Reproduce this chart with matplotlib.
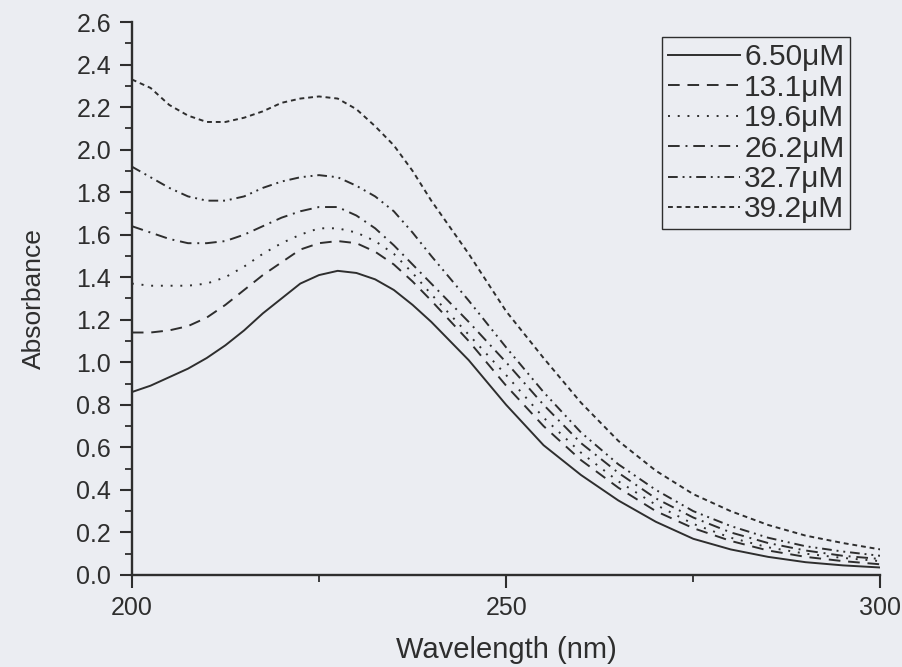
import numpy as np
import matplotlib.pyplot as plt
from matplotlib.ticker import MultipleLocator

plt.rcParams['font.family'] = ['Liberation Sans', 'DejaVu Sans']

# wavelength grid (nm)
wl = [200, 202.5, 205, 207.5, 210, 212.5, 215, 217.5, 220, 222.5, 225, 227.5,
      230, 232.5, 235, 237.5, 240, 245, 250, 255, 260, 265, 270, 275, 280,
      285, 290, 295, 300]

a_650 = [0.86, 0.89, 0.93, 0.97, 1.02, 1.08, 1.15, 1.23, 1.30, 1.37, 1.41, 1.43,
         1.42, 1.39, 1.34, 1.27, 1.19, 1.01, 0.80, 0.61, 0.47, 0.35, 0.25, 0.17,
         0.12, 0.085, 0.06, 0.045, 0.035]
a_131 = [1.14, 1.14, 1.15, 1.17, 1.21, 1.27, 1.34, 1.41, 1.47, 1.53, 1.56, 1.57,
         1.56, 1.52, 1.46, 1.38, 1.29, 1.10, 0.89, 0.70, 0.54, 0.41, 0.30, 0.22,
         0.16, 0.115, 0.085, 0.065, 0.05]
a_196 = [1.37, 1.36, 1.36, 1.36, 1.37, 1.40, 1.45, 1.51, 1.56, 1.60, 1.63, 1.63,
         1.61, 1.57, 1.51, 1.42, 1.32, 1.13, 0.94, 0.74, 0.575, 0.44, 0.33, 0.24,
         0.175, 0.13, 0.10, 0.08, 0.065]
a_262 = [1.64, 1.61, 1.58, 1.56, 1.56, 1.57, 1.60, 1.64, 1.68, 1.71, 1.73, 1.73,
         1.69, 1.63, 1.55, 1.46, 1.37, 1.19, 1.00, 0.80, 0.62, 0.48, 0.36, 0.27,
         0.20, 0.15, 0.115, 0.09, 0.075]
a_327 = [1.92, 1.87, 1.82, 1.78, 1.76, 1.76, 1.78, 1.82, 1.85, 1.87, 1.88, 1.87,
         1.83, 1.78, 1.71, 1.61, 1.50, 1.29, 1.07, 0.86, 0.67, 0.52, 0.40, 0.30,
         0.23, 0.175, 0.135, 0.11, 0.09]
a_392 = [2.33, 2.29, 2.21, 2.16, 2.13, 2.13, 2.15, 2.18, 2.22, 2.24, 2.25, 2.24,
         2.19, 2.11, 2.02, 1.90, 1.76, 1.51, 1.24, 1.02, 0.81, 0.63, 0.49, 0.38,
         0.30, 0.235, 0.185, 0.15, 0.12]

labels = ['6.50μM', '13.1μM', '19.6μM', '26.2μM', '32.7μM', '39.2μM']
series = [a_650, a_131, a_196, a_262, a_327, a_392]
styles = ['-', (0, (6, 4)), (0, (1, 4)), (0, (6, 3, 1, 3)),
          (0, (5, 2.5, 1, 2.5, 1, 2.5)), (0, (2.5, 2))]

ink = '#2e2e2e'
paper = '#ebedf2'

fig = plt.figure(figsize=(9.03, 6.67), dpi=100, facecolor=paper)
ax = fig.add_axes([0.146, 0.138, 0.829, 0.829])
ax.set_facecolor(paper)

for ys, lab, ls in zip(series, labels, styles):
    ax.plot(wl, ys, color=ink, lw=1.4, linestyle=ls, label=lab,
            solid_joinstyle='round')

ax.set_xlim(200, 300)
ax.set_ylim(0, 2.6)
ax.xaxis.set_major_locator(MultipleLocator(50))
ax.xaxis.set_minor_locator(MultipleLocator(25))
ax.yaxis.set_major_locator(MultipleLocator(0.2))
ax.yaxis.set_minor_locator(MultipleLocator(0.1))
ax.yaxis.set_major_formatter(plt.FormatStrFormatter('%.1f'))

for s in ['top', 'right']:
    ax.spines[s].set_visible(False)
for s in ['left', 'bottom']:
    ax.spines[s].set_linewidth(1.7)
    ax.spines[s].set_color(ink)

ax.tick_params(which='major', direction='out', length=9, width=1.5,
               colors=ink, labelsize=18, pad=6)
ax.tick_params(which='minor', direction='out', length=5, width=1.3, colors=ink)

ax.set_xlabel('Wavelength (nm)', fontsize=21, color=ink, labelpad=12)
ax.set_ylabel('Absorbance', fontsize=19, color=ink, labelpad=22)

leg = ax.legend(loc='upper right', bbox_to_anchor=(0.96, 0.972), fontsize=21.5,
                frameon=True, fancybox=False, handlelength=2.4,
                handletextpad=0.15, labelspacing=0.08, borderpad=0.2,
                borderaxespad=0.0)
leg.get_frame().set_edgecolor(ink)
leg.get_frame().set_linewidth(1.0)
leg.get_frame().set_facecolor(paper)
leg.get_frame().set_alpha(1)
for t in leg.get_texts():
    t.set_color(ink)

plt.savefig('out.png', dpi=100, facecolor=paper)
